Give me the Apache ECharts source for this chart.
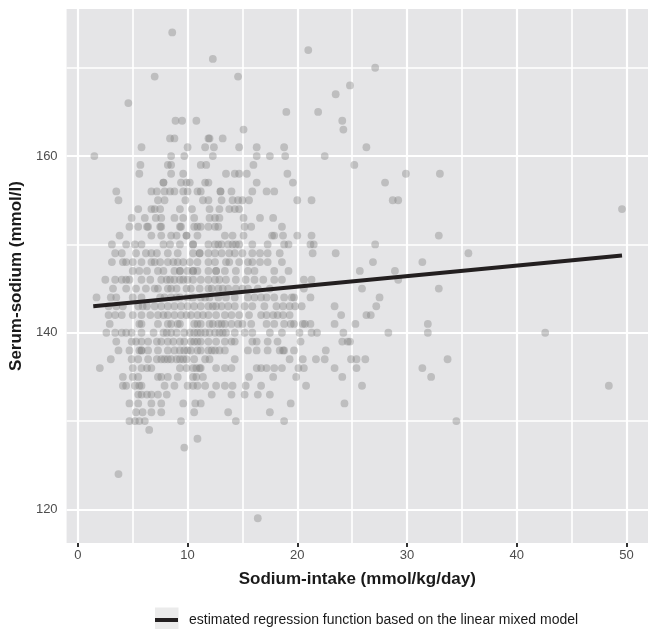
<!DOCTYPE html>
<html>
<head>
<meta charset="utf-8">
<script src="https://cdn.jsdelivr.net/npm/echarts@6/dist/echarts.min.js"></script>
<style>
  html, body { margin: 0; padding: 0; background: #ffffff; }
  #chart { width: 648px; height: 629px; }
</style>
</head>
<body>
<div id="chart"></div>
<script>
// Serum-sodium levels (mmol/l); each level has its list of sodium-intake values (mmol/kg/day)
const serumLevels = [174, 172, 171, 170, 169, 168, 167, 166, 165, 164, 163, 162, 161, 160, 159, 158, 157, 156, 155, 154, 153, 152, 151, 150, 149, 148, 147, 146, 145, 144, 143, 142, 141, 140, 139, 138, 137, 136, 135, 134, 133, 132, 131, 130, 129, 128, 127, 124, 119];

const intakeAtLevel = [
  [8.6],
  [21.0],
  [12.3],
  [27.1],
  [7.0, 14.6],
  [24.8],
  [23.5],
  [4.6],
  [19.0, 21.9],
  [8.9, 9.5, 10.8, 24.1],
  [15.1, 24.2],
  [8.4, 8.8, 11.9, 12.0, 13.2],
  [5.8, 10.0, 11.6, 12.4, 14.7, 16.3, 18.8, 26.3],
  [1.5, 8.5, 9.7, 12.3, 16.3, 17.5, 18.9, 22.5],
  [5.7, 8.2, 8.5, 11.2, 11.7, 16.0, 25.2],
  [5.6, 8.5, 9.6, 13.5, 14.3, 14.7, 15.4, 19.1, 29.9, 33.0],
  [7.8, 7.8, 9.4, 9.9, 10.2, 11.6, 11.9, 16.3, 19.6, 28.0],
  [3.5, 6.7, 7.2, 7.9, 8.4, 8.8, 9.6, 10.0, 10.9, 11.2, 13.0, 13.0, 14.0, 15.9, 17.2, 17.9],
  [3.7, 7.3, 7.9, 9.8, 11.4, 11.9, 13.1, 14.1, 14.6, 15.0, 15.6, 20.0, 21.3, 28.7, 29.2],
  [5.5, 6.7, 7.0, 7.5, 9.3, 10.4, 12.0, 12.9, 13.8, 14.3, 14.7, 49.6],
  [4.9, 6.1, 7.1, 7.6, 8.8, 9.6, 10.6, 12.0, 12.5, 12.9, 15.1, 16.6, 17.8],
  [4.7, 5.5, 6.3, 6.4, 7.5, 7.6, 9.3, 9.4, 10.6, 10.9, 11.2, 11.9, 12.5, 12.8, 15.2, 15.8, 18.6],
  [3.8, 6.7, 7.6, 8.5, 9.0, 9.9, 9.9, 10.9, 13.4, 14.1, 15.1, 17.7, 17.9, 18.7, 20.0, 21.3, 32.9],
  [3.1, 4.4, 5.2, 5.8, 7.8, 8.4, 9.3, 10.5, 10.5, 11.9, 12.5, 12.8, 13.1, 13.7, 14.1, 14.4, 14.7, 15.9, 17.3, 18.8, 19.2, 21.2, 21.5, 27.1],
  [3.4, 4.0, 5.3, 6.2, 6.7, 7.2, 8.2, 9.1, 10.5, 11.1, 11.1, 11.9, 12.5, 13.1, 13.8, 14.3, 15.0, 15.9, 16.6, 17.3, 18.4, 21.4, 23.5, 35.6],
  [3.1, 4.1, 4.4, 5.0, 5.8, 6.7, 7.0, 7.5, 8.2, 8.7, 9.1, 9.6, 10.2, 10.9, 11.9, 12.5, 13.5, 13.8, 14.7, 15.5, 15.9, 16.6, 17.3, 18.6, 26.9, 31.4],
  [5.0, 5.6, 6.3, 7.3, 7.8, 8.8, 9.3, 9.3, 10.0, 10.5, 10.5, 10.9, 11.9, 12.6, 12.6, 13.4, 14.4, 15.5, 16.1, 17.9, 19.2, 25.7, 28.9],
  [2.5, 3.4, 4.0, 4.4, 4.7, 5.8, 6.6, 7.6, 8.1, 8.4, 8.8, 9.3, 9.6, 10.0, 10.5, 11.2, 11.9, 12.5, 12.9, 13.5, 14.4, 15.3, 16.1, 16.9, 17.9, 18.6, 20.6, 21.3, 29.2],
  [3.2, 4.4, 5.3, 6.2, 7.0, 7.3, 8.2, 8.5, 9.0, 9.9, 10.3, 11.1, 11.9, 12.2, 12.8, 13.2, 13.7, 14.4, 15.0, 15.5, 16.4, 17.5, 20.6, 25.9, 32.9],
  [1.7, 3.0, 3.5, 5.0, 5.8, 7.5, 7.9, 8.5, 9.0, 9.3, 10.0, 10.5, 11.2, 11.6, 12.0, 12.8, 13.5, 14.3, 15.5, 16.1, 16.7, 17.2, 17.9, 18.8, 19.5, 19.7, 21.2, 27.5],
  [2.8, 3.5, 4.1, 5.5, 5.9, 6.3, 7.0, 7.6, 8.2, 8.8, 9.4, 10.0, 10.6, 11.2, 11.9, 12.3, 12.6, 13.1, 13.7, 14.3, 15.2, 15.9, 17.0, 18.1, 18.7, 19.3, 19.8, 20.4, 23.4, 27.2],
  [2.8, 3.4, 4.0, 5.0, 5.8, 6.6, 7.3, 7.8, 8.2, 8.8, 9.4, 9.9, 10.3, 10.9, 11.4, 11.9, 12.6, 13.4, 14.0, 14.7, 15.6, 16.7, 17.2, 17.8, 18.2, 18.7, 19.3, 24.0, 26.3, 26.7],
  [2.9, 5.6, 5.8, 7.3, 8.2, 8.5, 9.1, 9.3, 10.6, 10.9, 11.2, 12.0, 12.3, 12.8, 13.1, 13.4, 14.0, 14.6, 15.0, 15.8, 17.2, 17.9, 18.8, 19.4, 19.7, 20.5, 20.7, 21.2, 23.4, 25.3, 31.9],
  [2.6, 3.4, 4.0, 4.4, 4.9, 5.8, 6.9, 7.8, 8.1, 8.5, 9.0, 9.7, 10.2, 10.6, 10.9, 11.2, 11.6, 12.0, 12.5, 12.9, 13.2, 13.5, 14.3, 15.2, 15.9, 17.5, 18.6, 20.2, 21.3, 21.8, 24.2, 28.3, 31.9, 42.6],
  [3.5, 4.9, 5.3, 5.8, 6.4, 7.2, 7.6, 8.2, 8.7, 9.3, 9.7, 10.3, 10.6, 10.9, 11.2, 11.9, 12.6, 13.4, 14.0, 14.3, 15.9, 16.3, 17.3, 18.2, 20.3, 24.1, 24.6, 24.8],
  [3.7, 4.7, 5.6, 5.8, 5.8, 6.4, 7.3, 8.2, 8.8, 9.3, 9.7, 10.0, 10.3, 10.9, 11.2, 11.9, 12.2, 12.5, 12.9, 13.4, 15.5, 16.3, 17.3, 18.4, 18.7, 18.8, 19.7, 22.6],
  [3.0, 4.9, 5.5, 6.4, 7.2, 7.6, 7.9, 8.2, 8.5, 9.0, 9.3, 9.6, 9.9, 10.6, 11.6, 12.0, 14.3, 19.3, 20.5, 21.7, 22.5, 24.9, 25.4, 26.2, 33.7],
  [2.0, 5.0, 5.8, 6.3, 6.7, 9.3, 9.9, 10.5, 10.8, 11.1, 11.2, 12.6, 13.4, 14.0, 16.3, 16.7, 17.2, 17.9, 18.6, 20.1, 20.6, 23.4, 25.4, 31.4],
  [4.1, 5.0, 5.5, 7.3, 7.6, 8.2, 9.1, 10.5, 10.8, 11.4, 15.6, 17.8, 19.9, 24.1, 32.2],
  [4.1, 4.4, 5.2, 5.6, 5.8, 7.9, 8.8, 10.0, 10.5, 10.9, 11.6, 12.6, 13.4, 14.1, 15.3, 16.7, 20.8, 25.9, 48.4],
  [5.5, 5.8, 6.3, 6.7, 7.3, 8.1, 12.2, 14.0, 15.2, 16.4, 17.5],
  [4.7, 5.5, 6.7, 7.6, 9.6, 10.7, 11.2, 19.4, 24.3],
  [5.3, 5.9, 6.7, 7.6, 10.6, 13.7, 17.5],
  [4.7, 5.2, 5.6, 6.1, 9.4, 14.4, 18.8, 34.5],
  [6.5],
  [10.9],
  [9.7],
  [3.7],
  [16.4]
];

// Fitted regression function (linear mixed model) at the ends of the intake range
const regIntake = [1.4, 49.6];
const regSerum = [143.0, 148.75];

// Axis breaks
const xMajorTicks = [0, 10, 20, 30, 40, 50];
const xMinorTicks = [5, 15, 25, 35, 45];
const yMajorTicks = [120, 140, 160];
const yMinorTicks = [130, 150, 170];

const legendLabel = 'estimated regression function based on the linear mixed model';
const fontFamily = '"Liberation Sans", Arial, Helvetica, sans-serif';

const points = [];
serumLevels.forEach(function (level, i) {
  intakeAtLevel[i].forEach(function (x) { points.push([x, level]); });
});
const regLine = regIntake.map(function (x, i) { return [x, regSerum[i]]; });

const gridLines = []
  .concat(xMinorTicks.map(function (v) { return { xAxis: v, lineStyle: { width: 1.6 } }; }))
  .concat(yMinorTicks.map(function (v) { return { yAxis: v, lineStyle: { width: 1.6 } }; }))
  .concat(xMajorTicks.map(function (v) { return { xAxis: v, lineStyle: { width: 2.2 } }; }))
  .concat(yMajorTicks.map(function (v) { return { yAxis: v, lineStyle: { width: 2.2 } }; }));

const chart = echarts.init(document.getElementById('chart'), null, { renderer: 'canvas' });

chart.setOption({
  animation: false,
  backgroundColor: '#ffffff',
  grid: {
    left: 65, right: 0, top: 9, bottom: 86,
    show: true, backgroundColor: '#e5e5e7', borderWidth: 0
  },
  xAxis: {
    type: 'value',
    min: -1.03, max: 51.97,
    axisLine: { show: false },
    axisTick: { show: true, length: 4, customValues: xMajorTicks, lineStyle: { color: '#333333', width: 2 } },
    axisLabel: { customValues: xMajorTicks, margin: 6, color: '#4d4d4d', fontSize: 13, fontFamily: fontFamily },
    splitLine: { show: false },
    name: 'Sodium-intake (mmol/kg/day)',
    nameLocation: 'middle',
    nameGap: 28,
    nameTextStyle: { fontWeight: 'bold', fontSize: 17, color: '#1a1a1a', fontFamily: fontFamily }
  },
  yAxis: {
    type: 'value',
    min: 116.2, max: 176.65,
    axisLine: { show: false },
    axisTick: { show: true, length: 4, customValues: yMajorTicks, lineStyle: { color: '#333333', width: 2 } },
    axisLabel: { customValues: yMajorTicks, margin: 9, color: '#4d4d4d', fontSize: 13, fontFamily: fontFamily },
    splitLine: { show: false },
    name: 'Serum-sodium (mmol/l)',
    nameLocation: 'middle',
    nameGap: 40,
    nameTextStyle: { fontWeight: 'bold', fontSize: 17, color: '#1a1a1a', fontFamily: fontFamily }
  },
  legend: {
    data: [{ name: legendLabel, icon: 'rect' }],
    left: 155, top: 613,
    padding: 0,
    itemWidth: 23, itemHeight: 4,
    selectedMode: false,
    textStyle: { fontSize: 14, color: '#1a1a1a', fontFamily: fontFamily, padding: [0, 0, 0, 6] }
  },
  graphic: [{
    type: 'rect', left: 155, top: 607.5, silent: true, z: -1,
    shape: { width: 23.5, height: 22 },
    style: { fill: '#ebebeb' }
  }],
  series: [
    {
      type: 'scatter',
      data: [],
      silent: true,
      z: 1,
      markLine: {
        z: 1,
        silent: true,
        animation: false,
        symbol: ['none', 'none'],
        label: { show: false },
        lineStyle: { color: '#ffffff', type: 'solid', opacity: 1 },
        emphasis: { disabled: true },
        data: gridLines
      }
    },
    {
      type: 'scatter',
      data: points,
      symbol: 'circle',
      symbolSize: 7.8,
      silent: true,
      z: 3,
      itemStyle: { color: '#7f7f7f', opacity: 0.38 }
    },
    {
      type: 'line',
      name: legendLabel,
      data: regLine,
      showSymbol: false,
      silent: true,
      z: 4,
      lineStyle: { color: '#231f20', width: 4 },
      itemStyle: { color: '#231f20' }
    }
  ]
});
</script>
</body>
</html>
